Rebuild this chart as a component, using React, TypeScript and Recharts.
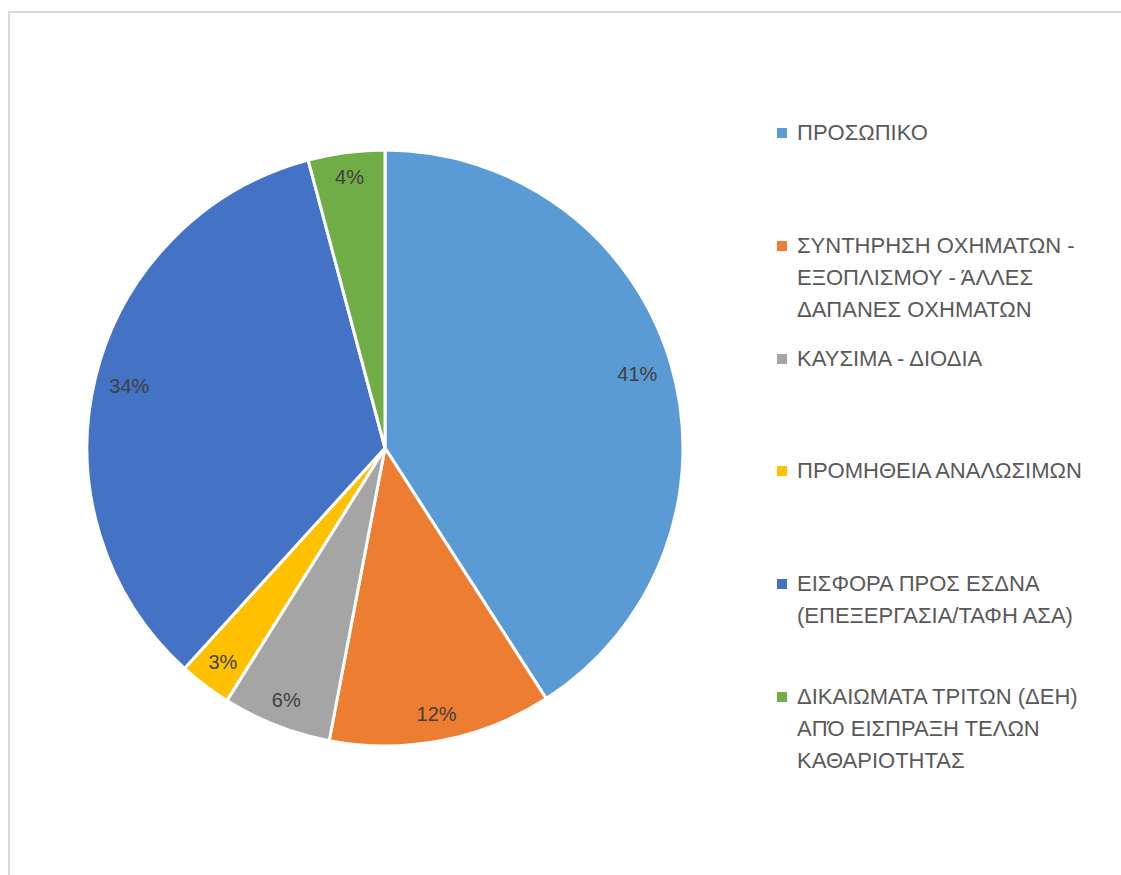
import React from 'react';
import { PieChart, Pie, Cell, Legend } from 'recharts';

// Κατανομή δαπανών καθαριότητας (%)
const categories = [
    'ΠΡΟΣΩΠΙΚΟ',
    'ΣΥΝΤΗΡΗΣΗ ΟΧΗΜΑΤΩΝ - ΕΞΟΠΛΙΣΜΟΥ - ΆΛΛΕΣ ΔΑΠΑΝΕΣ ΟΧΗΜΑΤΩΝ',
    'ΚΑΥΣΙΜΑ - ΔΙΟΔΙΑ',
    'ΠΡΟΜΗΘΕΙΑ ΑΝΑΛΩΣΙΜΩΝ',
    'ΕΙΣΦΟΡΑ ΠΡΟΣ ΕΣΔΝΑ (ΕΠΕΞΕΡΓΑΣΙΑ/ΤΑΦΗ ΑΣΑ)',
    'ΔΙΚΑΙΩΜΑΤΑ ΤΡΙΤΩΝ (ΔΕΗ) ΑΠΌ ΕΙΣΠΡΑΞΗ ΤΕΛΩΝ ΚΑΘΑΡΙΟΤΗΤΑΣ',
];
const shares = [40.9, 12.1, 5.9, 2.85, 34.1, 4.15];
const colors = ['#5B9BD5', '#ED7D31', '#A5A5A5', '#FFC000', '#4472C4', '#70AD47'];
const legendLines = [
    ['ΠΡΟΣΩΠΙΚΟ'],
    ['ΣΥΝΤΗΡΗΣΗ ΟΧΗΜΑΤΩΝ -', 'ΕΞΟΠΛΙΣΜΟΥ - ΆΛΛΕΣ', 'ΔΑΠΑΝΕΣ ΟΧΗΜΑΤΩΝ'],
    ['ΚΑΥΣΙΜΑ - ΔΙΟΔΙΑ'],
    ['ΠΡΟΜΗΘΕΙΑ ΑΝΑΛΩΣΙΜΩΝ'],
    ['ΕΙΣΦΟΡΑ ΠΡΟΣ ΕΣΔΝΑ', '(ΕΠΕΞΕΡΓΑΣΙΑ/ΤΑΦΗ ΑΣΑ)'],
    ['ΔΙΚΑΙΩΜΑΤΑ ΤΡΙΤΩΝ (ΔΕΗ)', 'ΑΠΌ ΕΙΣΠΡΑΞΗ ΤΕΛΩΝ', 'ΚΑΘΑΡΙΟΤΗΤΑΣ'],
];

const data = categories.map((name, i) => ({ name, value: shares[i] }));

const RADIAN = Math.PI / 180;
const LABEL_SIZE = 20;

// "inside end" label: push the text box out along the mid ray until its far corner is ~13px inside the rim
const renderLabel = ({ cx, cy, midAngle, outerRadius, percent }: any) => {
    const text = `${Math.round(percent * 100)}%`;
    const hw = ((text.length - 1) * 0.556 + 0.889) * LABEL_SIZE / 2;
    const hh = LABEL_SIZE / 2;
    const ux = Math.cos(-midAngle * RADIAN);
    const uy = Math.sin(-midAngle * RADIAN);
    const D = outerRadius - 13;
    const b = Math.abs(ux) * hw + Math.abs(uy) * hh;
    const c = hw * hw + hh * hh - D * D;
    const r = -b + Math.sqrt(b * b - c);
    return (
        <text x={cx + r * ux} y={cy + r * uy} fill="#404040" fontSize={LABEL_SIZE} textAnchor="middle" dominantBaseline="central">
            {text}
        </text>
    );
};

// legend in original category order (payload order isn't guaranteed)
const renderLegend = () => (
    <div>
        {categories.map((_, i) => (
            <div key={i} style={{ height: 112.8, display: 'flex', alignItems: 'flex-start' }}>
                <span style={{ width: 10, height: 10, background: colors[i], marginTop: 11, marginRight: 10, flexShrink: 0 }} />
                <div style={{ fontSize: 22, lineHeight: '32px', color: '#595959' }}>
                    {legendLines[i].map((line, j) => (
                        <div key={j} style={{ whiteSpace: 'nowrap' }}>{line}</div>
                    ))}
                </div>
            </div>
        ))}
    </div>
);

export default function App() {
    return (
        <>
            <style>{`body { margin: 0; overflow: hidden; }`}</style>
            <div
                style={{
                    marginLeft: 8,
                    marginTop: 11,
                    width: 1120,
                    height: 870,
                    borderTop: '2px solid #d9d9d9',
                    borderLeft: '2px solid #d9d9d9',
                    background: '#fff',
                    fontFamily: '"Liberation Sans", Arial, sans-serif',
                }}
            >
                <PieChart width={1100} height={850} margin={{ top: 0, right: 0, bottom: 0, left: 0 }}>
                    <Pie
                        data={data}
                        dataKey="value"
                        nameKey="name"
                        cx={375}
                        cy={435}
                        outerRadius={298}
                        startAngle={90}
                        endAngle={-270}
                        stroke="#fff"
                        strokeWidth={3}
                        label={renderLabel}
                        labelLine={false}
                        isAnimationActive={false}
                    >
                        {data.map((_, i) => (
                            <Cell key={i} fill={colors[i]} />
                        ))}
                    </Pie>
                    <Legend
                        layout="vertical"
                        verticalAlign="top"
                        align="right"
                        content={renderLegend}
                        wrapperStyle={{ left: 767, top: 104, width: 333 }}
                    />
                </PieChart>
            </div>
        </>
    );
}
